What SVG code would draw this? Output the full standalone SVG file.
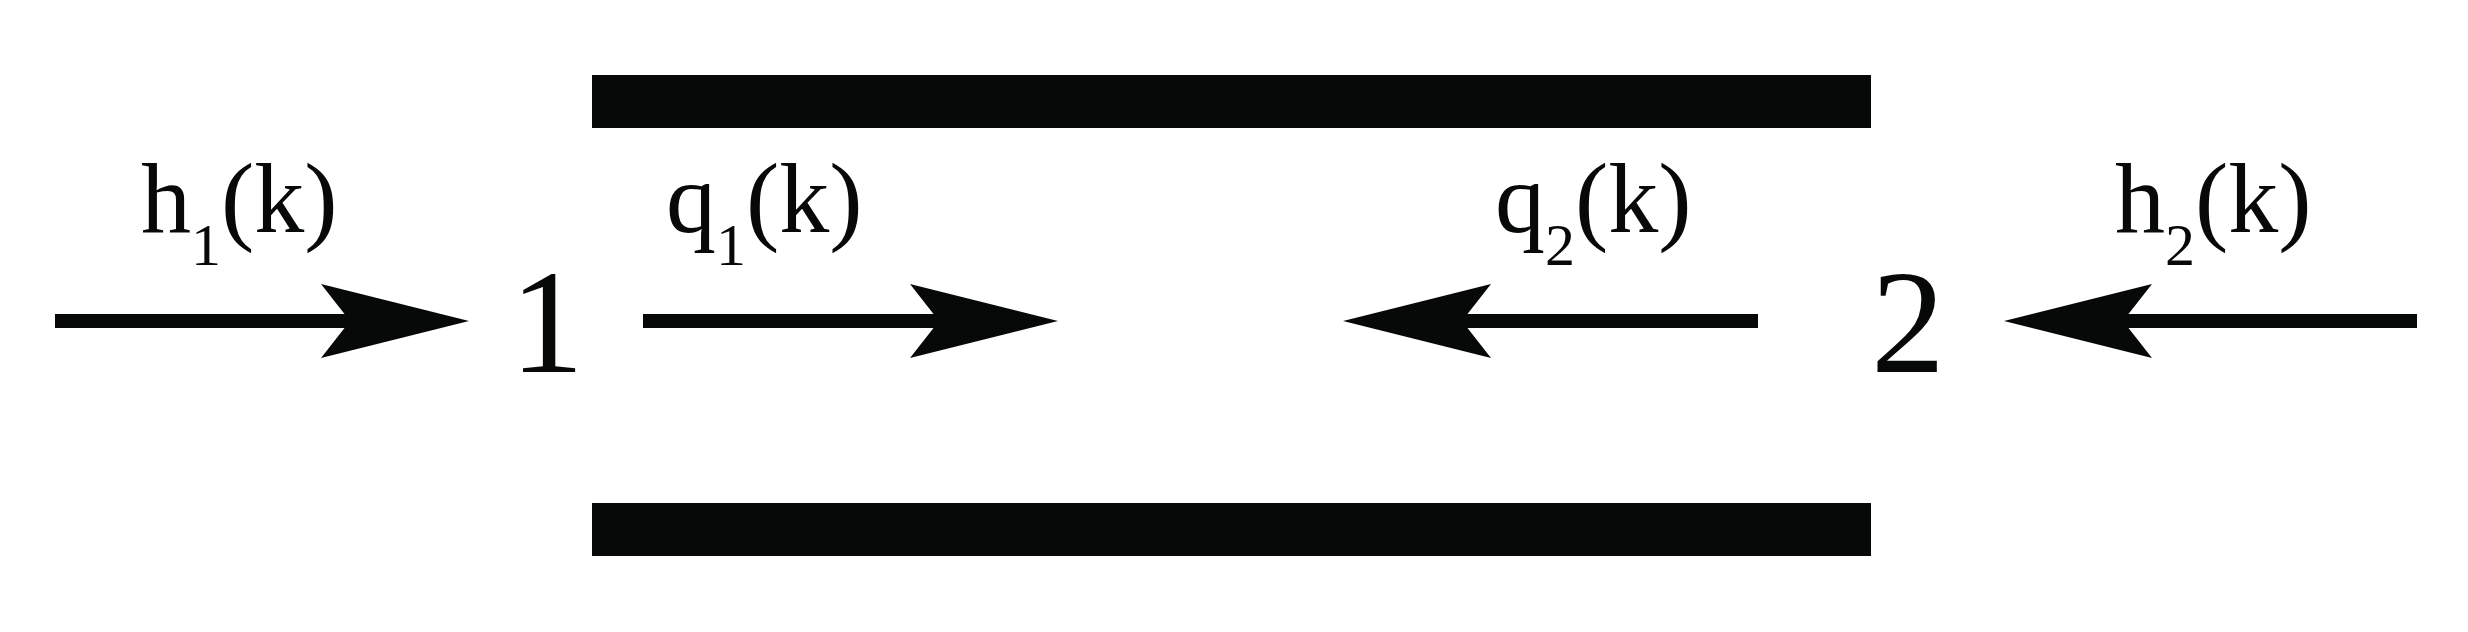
<svg xmlns="http://www.w3.org/2000/svg" width="2468" height="632" viewBox="0 0 2468 632">
<style>
  .bar { fill: #070909; }
  .conn { stroke: #070909; stroke-width: 14; fill: none; marker-end: url(#head); }
  .lbl { font-family: "Liberation Serif", "Times New Roman", serif; font-size: 100px; fill: #070909; }
  .sub { font-size: 60px; }
  .node { font-family: "Liberation Serif", "Times New Roman", serif; font-size: 148px; fill: #070909; text-anchor: middle; }
</style>
<defs>
  <marker id="head" markerUnits="userSpaceOnUse" viewBox="0 0 148 74" markerWidth="148" markerHeight="74" refX="29" refY="37" orient="auto">
    <path d="M0,0 L148,37 L0,74 L29,37 Z" fill="#070909"/>
  </marker>
</defs>
<rect width="2468" height="632" fill="#ffffff"/>
<g id="pipe">
  <rect class="bar" x="592" y="75" width="1279" height="53"/>
  <rect class="bar" x="592" y="503" width="1279" height="53"/>
</g>
<g id="node1"><text class="node" x="547" y="372">1</text></g>
<g id="node2"><text class="node" x="1908" y="372">2</text></g>
<g id="connectors">
  <line class="conn" x1="55" y1="321" x2="350" y2="321"/>
  <line class="conn" x1="643" y1="321" x2="939" y2="321"/>
  <line class="conn" x1="1758" y1="321" x2="1462" y2="321"/>
  <line class="conn" x1="2417" y1="321" x2="2123" y2="321"/>
</g>
<g id="labels">
  <text class="lbl" x="141" y="232">h<tspan class="sub" dy="33">1</tspan><tspan dy="-33">(k)</tspan></text>
  <text class="lbl" x="666" y="232">q<tspan class="sub" dy="33">1</tspan><tspan dy="-33">(k)</tspan></text>
  <text class="lbl" x="1495" y="232">q<tspan class="sub" dy="33">2</tspan><tspan dy="-33">(k)</tspan></text>
  <text class="lbl" x="2115" y="232">h<tspan class="sub" dy="33">2</tspan><tspan dy="-33">(k)</tspan></text>
</g>
</svg>
